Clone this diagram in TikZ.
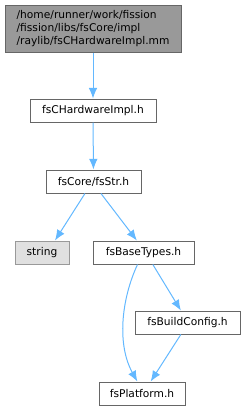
\documentclass[tikz,border=0pt]{standalone}
\usepackage{fontspec}
\setmainfont{DejaVu Sans}
\definecolor{EdgeBlue}{RGB}{99, 184, 255}
\definecolor{BoxLine}{RGB}{102, 102, 102}
\definecolor{RootFill}{RGB}{153, 153, 153}
\definecolor{ExtFill}{RGB}{224, 224, 224}
\definecolor{ExtLine}{RGB}{153, 153, 153}
\usetikzlibrary{arrows.meta, positioning}

\begin{document}
\begin{tikzpicture}[
    x=0.75pt, y=-0.75pt,
    every node/.style={font=\fontsize{8}{9.75}\selectfont, align=center, inner sep=0pt},
    filebox/.style={draw=BoxLine, fill=white, line width=0.75pt, minimum height=17.25pt},
    rootbox/.style={filebox, fill=RootFill, minimum width=132pt, minimum height=35.25pt, align=left},
    extbox/.style={draw=ExtLine, fill=ExtFill, line width=0.75pt, minimum height=17.25pt},
    dep/.style={draw=EdgeBlue, line width=0.75pt, -{Latex[length=8pt, width=6.5pt]}}
]
\useasboundingbox (0,0) rectangle (245,411);
\node[rootbox] (root) at (93,28.5) {/home/runner/work/fission\\/fission/libs/fsCore/impl\\/raylib/fsCHardwareImpl.mm};
\node[filebox, minimum width=94.5pt] (hwimpl) at (93,110.5) {fsCHardwareImpl.h};
\node[filebox, minimum width=71.25pt] (fsstr) at (93.5,181.5) {fsCore/fsStr.h};
\node[extbox, minimum width=40.5pt] (string) at (42,252.5) {string};
\node[filebox, minimum width=75.75pt] (basetypes) at (143.5,252.5) {fsBaseTypes.h};
\node[filebox, minimum width=78.75pt] (buildcfg) at (187.5,322.5) {fsBuildConfig.h};
\node[filebox, minimum width=64.5pt] (platform) at (142,393.5) {fsPlatform.h};

\draw[dep] (root) -- (hwimpl);
\draw[dep] (hwimpl) -- (fsstr);
\draw[dep] ([xshift=-6.4pt]fsstr.south) -- ([xshift=9.75pt]string.north);
\draw[dep] ([xshift=5.6pt]fsstr.south) -- ([xshift=-5pt]basetypes.north);
\draw[dep] ([xshift=-4.5pt]basetypes.south) .. controls (121,300) and (117,345) .. ([xshift=-3.5pt]platform.north);
\draw[dep] ([xshift=7pt]basetypes.south) -- ([xshift=-5pt]buildcfg.north);
\draw[dep] ([xshift=-5pt]buildcfg.south) -- ([xshift=6.5pt]platform.north);
\end{tikzpicture}
\end{document}
